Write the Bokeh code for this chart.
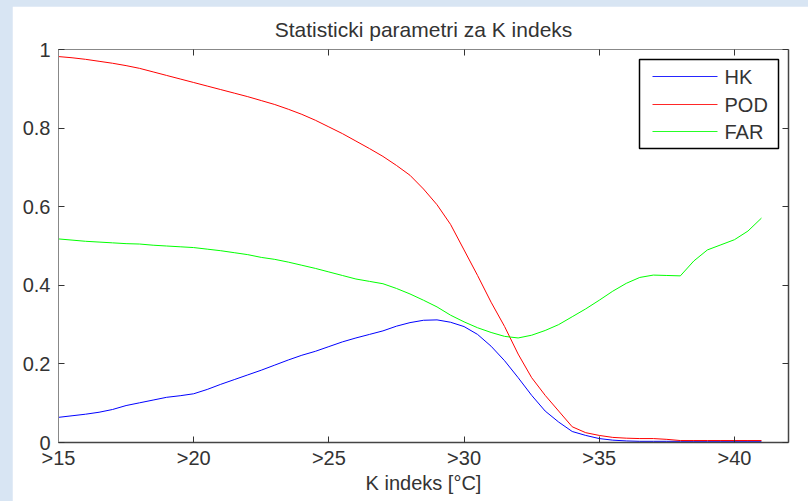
from bokeh.plotting import figure
from bokeh.models import Range1d, FixedTicker, LinearAxis, CustomJSTickFormatter, BoxAnnotation, Label
from bokeh.layouts import column
from bokeh.embed import file_html
from bokeh.resources import INLINE

# ---- data ----
k_index = [15, 15.5, 16, 16.5, 17, 17.5, 18, 18.5, 19, 19.5, 20, 20.5, 21, 21.5, 22, 22.5,
           23, 23.5, 24, 24.5, 25, 25.5, 26, 26.5, 27, 27.5, 28, 28.5, 29, 29.5, 30, 30.5,
           31, 31.5, 32, 32.5, 33, 33.5, 34, 34.5, 35, 35.5, 36, 36.5, 37, 37.5, 38, 38.5,
           39, 39.5, 40, 40.5, 41]

hk = [0.064, 0.068, 0.072, 0.077, 0.084, 0.094, 0.101, 0.108, 0.115, 0.119, 0.124, 0.135,
      0.148, 0.160, 0.172, 0.184, 0.197, 0.210, 0.222, 0.232, 0.244, 0.256, 0.266, 0.275,
      0.284, 0.296, 0.305, 0.311, 0.312, 0.306, 0.295, 0.275, 0.245, 0.208, 0.165, 0.120,
      0.080, 0.052, 0.028, 0.018, 0.010, 0.006, 0.004, 0.003, 0.003, 0.003, 0.003, 0.003,
      0.003, 0.003, 0.003, 0.003, 0.003]

pod = [0.982, 0.979, 0.975, 0.970, 0.965, 0.959, 0.952, 0.943, 0.934, 0.925, 0.916, 0.907,
       0.898, 0.889, 0.880, 0.870, 0.860, 0.848, 0.835, 0.820, 0.803, 0.786, 0.767, 0.748,
       0.728, 0.705, 0.680, 0.645, 0.605, 0.555, 0.490, 0.425, 0.357, 0.295, 0.225, 0.165,
       0.120, 0.080, 0.040, 0.025, 0.018, 0.013, 0.011, 0.010, 0.010, 0.008, 0.005, 0.005,
       0.005, 0.005, 0.005, 0.005, 0.005]

far = [0.518, 0.515, 0.512, 0.510, 0.508, 0.506, 0.505, 0.502, 0.500, 0.498, 0.496, 0.492,
       0.488, 0.483, 0.478, 0.471, 0.466, 0.459, 0.451, 0.443, 0.434, 0.425, 0.416, 0.410,
       0.404, 0.392, 0.378, 0.362, 0.345, 0.324, 0.307, 0.292, 0.280, 0.270, 0.266, 0.273,
       0.285, 0.300, 0.320, 0.340, 0.362, 0.385, 0.405, 0.420, 0.426, 0.425, 0.424, 0.462,
       0.490, 0.503, 0.516, 0.538, 0.571]

series_labels = ["HK", "POD", "FAR"]
series_colors = ["#0000ff", "#ff0000", "#00ff00"]

x_ticks = [15, 20, 25, 30, 35, 40]
x_tick_labels = [">15", ">20", ">25", ">30", ">35", ">40"]
y_ticks = [0, 0.2, 0.4, 0.6, 0.8, 1.0]

title_text = "Statisticki parametri za K indeks"
x_label = "K indeks [°C]"
FONT = "Liberation Sans"
TXT = "#333333"

W, H = 796, 495
BL, BR, BT, BB = 46, 20, 42, 59
FH = H - BT - BB  # frame height in px

p = figure(width=W, height=H, output_backend="svg", toolbar_location=None,
           x_range=Range1d(15, 42), y_range=Range1d(0, 1),
           min_border_left=BL, min_border_right=BR, min_border_top=BT, min_border_bottom=BB,
           background_fill_color="white", border_fill_color="white")
p.margin = (6, 0, 0, 12)
p.grid.visible = False
p.outline_line_color = None

p.title.text = title_text
p.title.align = "center"
p.title.text_font = FONT
p.title.text_font_size = "21px"
p.title.text_font_style = "normal"
p.title.text_color = TXT
p.title.standoff = 18

for ys, col in zip([hk, pod, far], series_colors):
    p.line(k_index, ys, line_color=col, line_width=1)

xa = p.xaxis[0]
xa.ticker = FixedTicker(ticks=x_ticks)
xa.major_label_overrides = {t: l for t, l in zip(x_ticks, x_tick_labels)}
xa.axis_label = x_label
xa.axis_label_text_font = FONT
xa.axis_label_text_font_size = "20px"
xa.axis_label_text_font_style = "normal"
xa.axis_label_text_color = TXT
xa.axis_label_standoff = 0
xa.major_label_standoff = 4
xa.axis_line_color = "#444444"
xa.axis_line_width = 1.5

ya = p.yaxis[0]
ya.ticker = FixedTicker(ticks=y_ticks)
ya.formatter = CustomJSTickFormatter(code="return String(Math.round(tick*10)/10);")
ya.major_label_standoff = 8
ya.axis_line_color = "#888888"
ya.axis_line_width = 1

for ax in (xa, ya):
    ax.major_label_text_font = FONT
    ax.major_label_text_font_size = "20px"
    ax.major_label_text_color = TXT
    ax.major_tick_in = 6
    ax.major_tick_out = 0
    ax.major_tick_line_color = "#333333"
    ax.minor_tick_line_color = None

blank = CustomJSTickFormatter(code="return '';")
top = LinearAxis(ticker=FixedTicker(ticks=x_ticks), formatter=blank,
                 major_label_standoff=0, major_tick_in=6, major_tick_out=0,
                 minor_tick_line_color=None, axis_line_color="#888888",
                 major_tick_line_color="#333333")
right = LinearAxis(ticker=FixedTicker(ticks=y_ticks), formatter=blank,
                   major_label_standoff=0, major_tick_in=6, major_tick_out=0,
                   minor_tick_line_color=None, axis_line_color="#444444", axis_line_width=1.5,
                   major_tick_line_color="#333333")
p.add_layout(top, "above")
p.add_layout(right, "right")

# ---- legend drawn with screen-unit annotations (px from frame left / frame top) ----
box_l, box_r, box_t, box_b = 581, 720, 11, 100
line_x0, line_x1, text_x = 594, 659, 666
row_y = [28, 56, 83]

def sy(v):  # screen y is measured upward from the frame bottom
    return FH - v

p.add_layout(BoxAnnotation(left=box_l, right=box_r, top=sy(box_t), bottom=sy(box_b),
                           left_units="screen", right_units="screen",
                           top_units="screen", bottom_units="screen",
                           fill_color="white", fill_alpha=1.0,
                           line_color="black", line_width=1.5, line_alpha=1.0))
for lab, col, ry in zip(series_labels, series_colors, row_y):
    p.add_layout(BoxAnnotation(left=line_x0, right=line_x1, top=sy(ry - 0.5), bottom=sy(ry + 0.5),
                               left_units="screen", right_units="screen",
                               top_units="screen", bottom_units="screen",
                               fill_color=col, fill_alpha=0.85, line_color=None))
    p.add_layout(Label(x=text_x, y=sy(ry), x_units="screen", y_units="screen", text=lab,
                       text_font=FONT, text_font_size="20px", text_color=TXT,
                       text_baseline="middle", text_align="left"))

layout = column(p, width=808, height=501, styles={"background-color": "#d8e5f3"})
open("out.html", "w").write(file_html(layout, INLINE))
